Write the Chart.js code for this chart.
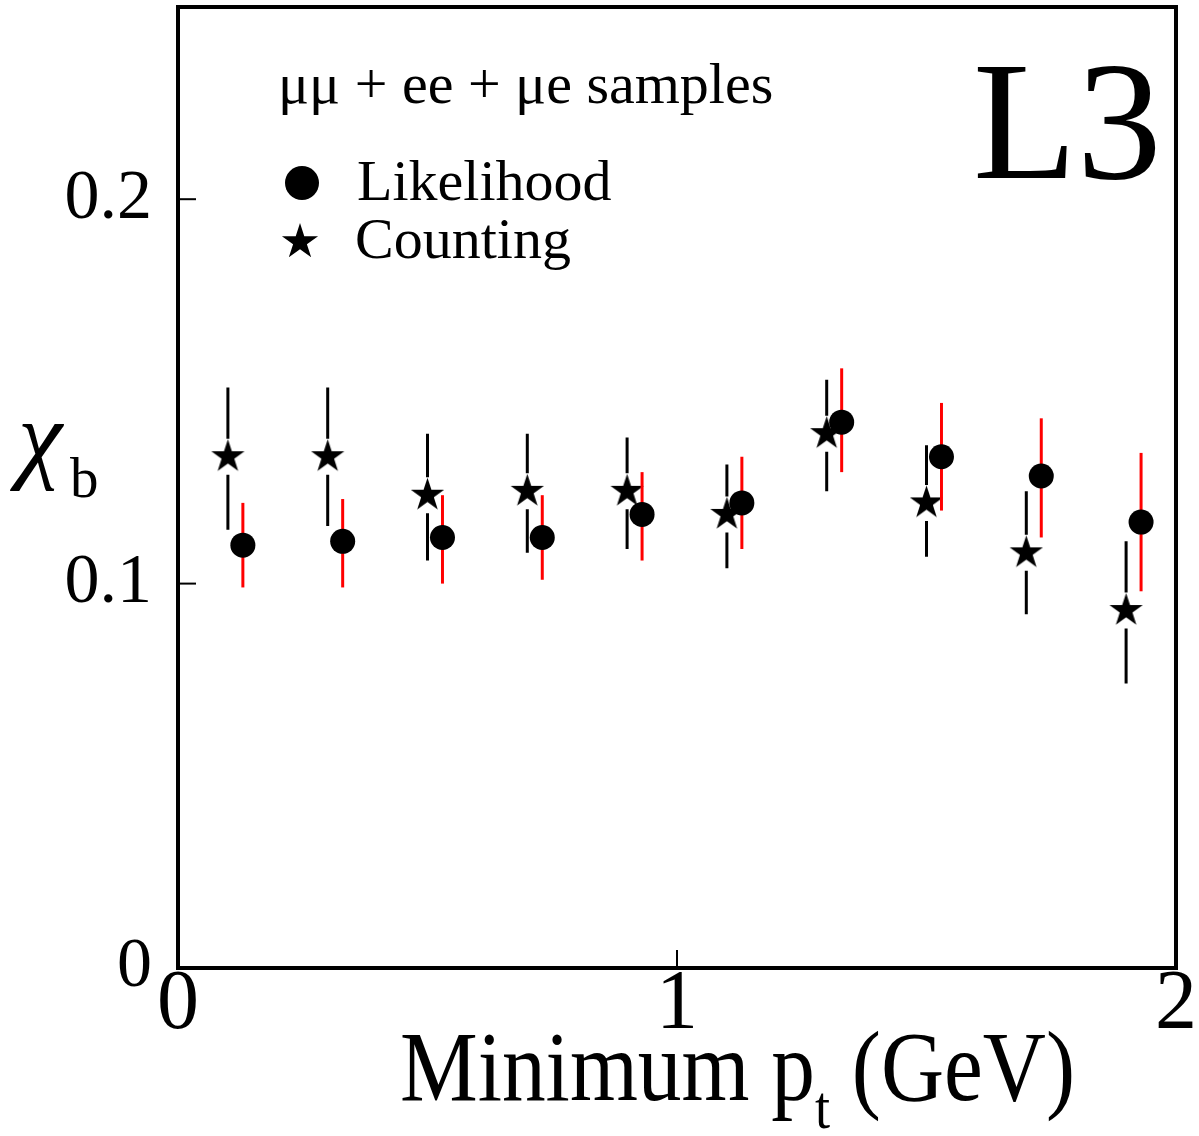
<!DOCTYPE html>
<html><head><meta charset="utf-8">
<script src="https://cdn.jsdelivr.net/npm/chart.js@4.4.0/dist/chart.umd.min.js"></script>
<style>html,body{margin:0;padding:0;background:#fff}#wrap{width:1199px;height:1136px;position:relative}</style>
</head><body><div id="wrap"><canvas id="c"></canvas></div>
<script>
// ---- data ----
const xTicks = [0, 1, 2];
const yTicks = [0, 0.1, 0.2];

const countX  = [0.1, 0.3, 0.5, 0.7, 0.9, 1.1, 1.3, 1.5, 1.7, 1.9];
const countY  = [0.133, 0.133, 0.123, 0.124, 0.124, 0.118, 0.139, 0.121, 0.108, 0.093];
const countHi = [0.151, 0.151, 0.139, 0.139, 0.138, 0.131, 0.153, 0.136, 0.124, 0.111];
const countLo = [0.114, 0.115, 0.106, 0.108, 0.109, 0.104, 0.124, 0.107, 0.092, 0.074];

const likeX  = [0.13, 0.33, 0.53, 0.73, 0.93, 1.13, 1.33, 1.53, 1.73, 1.93];
const likeY  = [0.110, 0.111, 0.112, 0.112, 0.118, 0.121, 0.142, 0.133, 0.128, 0.116];
const likeHi = [0.121, 0.122, 0.123, 0.123, 0.129, 0.133, 0.156, 0.147, 0.143, 0.134];
const likeLo = [0.099, 0.099, 0.100, 0.101, 0.106, 0.109, 0.129, 0.119, 0.112, 0.098];

const FONT = '"Liberation Serif", "Times New Roman", serif';

function starPath(g, cx, cy, R) {
  const r = R * 0.382;
  g.beginPath();
  for (let i = 0; i < 10; i++) {
    const a = -Math.PI / 2 + i * Math.PI / 5;
    const rr = i % 2 ? r : R;
    g.lineTo(cx + rr * Math.cos(a), cy + rr * Math.sin(a));
  }
  g.closePath();
}
function makeStar(R) {
  const c = document.createElement('canvas');
  const s = Math.ceil(2 * R + 2);
  c.width = s; c.height = s;
  const g = c.getContext('2d');
  g.fillStyle = '#000';
  starPath(g, s / 2, s / 2, R);
  g.fill();
  return c;
}
const starImg = makeStar(17.5);

const errPlugin = {
  id: 'err',
  beforeDatasetDraw(chart, args) {
    const { ctx, scales: { x, y } } = chart;
    ctx.save();
    ctx.lineWidth = 3;
    ctx.lineCap = 'butt';
    if (args.index === 1) {
      ctx.strokeStyle = '#000';
      countX.forEach((v, i) => {
        const px = x.getPixelForValue(v);
        const py = y.getPixelForValue(countY[i]);
        const top = y.getPixelForValue(countHi[i]);
        const bot = y.getPixelForValue(countLo[i]);
        const gap = 18;
        ctx.beginPath();
        ctx.moveTo(px, top); ctx.lineTo(px, py - gap);
        ctx.moveTo(px, py + gap); ctx.lineTo(px, bot);
        ctx.stroke();
      });
    } else if (args.index === 0) {
      ctx.strokeStyle = '#ff0000';
      likeX.forEach((v, i) => {
        const px = x.getPixelForValue(v);
        ctx.beginPath();
        ctx.moveTo(px, y.getPixelForValue(likeHi[i]));
        ctx.lineTo(px, y.getPixelForValue(likeLo[i]));
        ctx.stroke();
      });
    }
    ctx.restore();
  }
};

const framePlugin = {
  id: 'frame',
  afterDraw(chart) {
    const { ctx, chartArea: a, scales: { x, y } } = chart;
    ctx.save();
    ctx.strokeStyle = '#000';
    ctx.lineWidth = 4;
    ctx.strokeRect(a.left, a.top, a.right - a.left, a.bottom - a.top);
    ctx.lineWidth = 2;
    yTicks.forEach(v => {
      if (v === 0) return;
      const py = y.getPixelForValue(v);
      ctx.beginPath(); ctx.moveTo(a.left, py); ctx.lineTo(a.left + 18, py); ctx.stroke();
    });
    xTicks.forEach(v => {
      if (v === 0 || v === 2) return;
      const px = x.getPixelForValue(v);
      ctx.beginPath(); ctx.moveTo(px, a.bottom); ctx.lineTo(px, a.bottom - 18); ctx.stroke();
    });

    ctx.fillStyle = '#000';
    ctx.textBaseline = 'alphabetic';
    ctx.textAlign = 'left';
    // L3
    ctx.font = '170px ' + FONT;
    ctx.fillText('L3', 973, 178);
    // legend header
    ctx.font = '58px ' + FONT;
    ctx.fillText('\u03bc\u03bc + ee + \u03bce samples', 278, 103);
    // legend entries
    ctx.beginPath(); ctx.arc(302, 183, 17, 0, Math.PI * 2); ctx.fill();
    ctx.font = '58px ' + FONT;
    ctx.fillText('Likelihood', 357, 200);
    starPath(ctx, 300, 242, 19); ctx.fill();
    ctx.fillText('Counting', 355, 258);
    // y label
    ctx.font = 'italic 100px ' + FONT;
    ctx.fillText('\u03c7', 18, 470);
    ctx.font = '57px ' + FONT;
    ctx.fillText('b', 70, 497);
    // x title
    const big = '100px ' + FONT, small = '62px ' + FONT;
    ctx.font = big; const w1 = ctx.measureText('Minimum p').width;
    ctx.font = small; const w2 = ctx.measureText('t').width;
    ctx.font = big; const w3 = ctx.measureText(' (GeV)').width;
    const sx = 675 / (w1 + w2 + w3);
    ctx.translate(400, 1100);
    ctx.scale(sx, 1);
    ctx.font = big; ctx.fillText('Minimum p', 0, 0);
    ctx.font = small; ctx.fillText('t', w1, 28);
    ctx.font = big; ctx.fillText(' (GeV)', w1 + w2, 0);
    ctx.restore();
  }
};

new Chart(document.getElementById('c'), {
  type: 'scatter',
  data: {
    datasets: [
      {
        label: 'Likelihood',
        data: likeX.map((v, i) => ({ x: v, y: likeY[i] })),
        pointStyle: 'circle', pointRadius: 12.5, pointHoverRadius: 12.5,
        backgroundColor: '#000', borderWidth: 0
      },
      {
        label: 'Counting',
        data: countX.map((v, i) => ({ x: v, y: countY[i] })),
        pointStyle: starImg, pointRadius: 17,
        backgroundColor: '#000', borderWidth: 0
      }
    ]
  },
  options: {
    responsive: true, maintainAspectRatio: false, animation: false,
    layout: { autoPadding: false, padding: { left: 0, top: 7, right: 23, bottom: 0 } },
    plugins: { legend: { display: false }, tooltip: { enabled: false } },
    events: [],
    scales: {
      x: {
        type: 'linear', min: 0, max: 2,
        afterBuildTicks: s => { s.ticks = xTicks.map(v => ({ value: v })); },
        afterFit: s => { s.height = 168; s.paddingLeft = 0; s.paddingRight = 0; },
        grid: { display: false }, border: { display: false },
        ticks: { color: '#000', padding: -12, font: { family: FONT, size: 84, lineHeight: 1 }, maxRotation: 0, callback: v => String(v) }
      },
      y: {
        type: 'linear', min: 0, max: 0.25,
        afterBuildTicks: s => { s.ticks = yTicks.map(v => ({ value: v })); },
        afterFit: s => { s.width = 178; s.paddingTop = 0; s.paddingBottom = 0; },
        grid: { display: false }, border: { display: false },
        ticks: { color: '#000', padding: 18, font: { family: FONT, size: 70, lineHeight: 1 }, callback: v => (v === 0 ? '0' : v.toFixed(1)) }
      }
    }
  },
  plugins: [errPlugin, framePlugin]
});
</script>
</body></html>
